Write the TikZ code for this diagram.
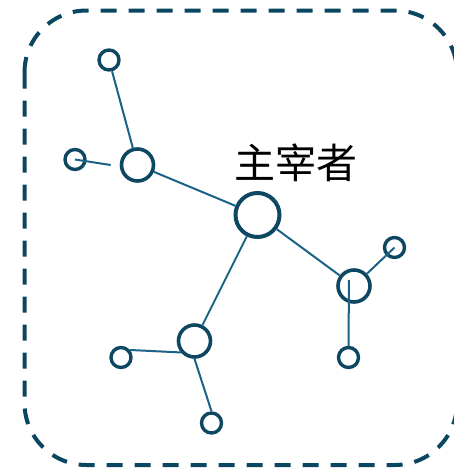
\documentclass[tikz,border=0pt]{standalone}
\usepackage{fontspec}
\newfontfamily\cjk{Noto Sans CJK SC}
\definecolor{frame}{HTML}{0B4661}
\definecolor{ring}{HTML}{0E4762}
\definecolor{link}{HTML}{1B6288}
\begin{document}
\begin{tikzpicture}[x=1pt,y=-1pt,
  hub/.style={circle,draw=ring,line width=4pt,fill=none,inner sep=0pt,minimum size=44pt},
  mid/.style={circle,draw=ring,line width=3.6pt,inner sep=0pt,minimum size=32pt},
  leaf/.style={circle,draw=ring,line width=3.4pt,inner sep=0pt,minimum size=20pt},
  edge/.style={draw=link,line width=2pt},
  border/.style={draw=frame,line width=4pt,dash pattern=on 16pt off 12pt,rounded corners=62pt}]
\useasboundingbox (0,0) rectangle (454,469);
\draw[border] (24.5,10.5) rectangle (457,465);

\node[hub] (h) at (257.5,215) {};
\node[mid] (lm) at (137.5,165) {};
\node[mid] (rn) at (354,286) {};
\node[mid] (bl) at (194.5,341) {};
\node[leaf] (tl) at (109,60) {};
\node[leaf] (ls) at (75,159.5) {};
\node[leaf] (rt) at (394.5,247.5) {};
\node[leaf] (rb) at (348.5,357.5) {};
\node[leaf] (bls) at (121,357.5) {};
\node[leaf] (bs) at (211.5,423) {};

\node[font=\cjk\fontsize{41}{41}\selectfont,text=black] (lbl) at (296,163) {主宰者};

\draw[edge] (tl) -- (lm);
\draw[edge] (ls.center) -- ([xshift=-9pt]lm.west);
\draw[edge] (lm) -- (h);
\draw[edge] (h) -- (bl);
\draw[edge] (h) -- (rn);
\draw[edge] (rn) -- (rt.center);
\draw[edge] ([xshift=-5pt,yshift=6pt]rn.center) -- (rb.north);
\draw[edge] (bls.40) -- (bl.220);
\draw[edge] (bl.-90) -- (bs.north);
\end{tikzpicture}
\end{document}
